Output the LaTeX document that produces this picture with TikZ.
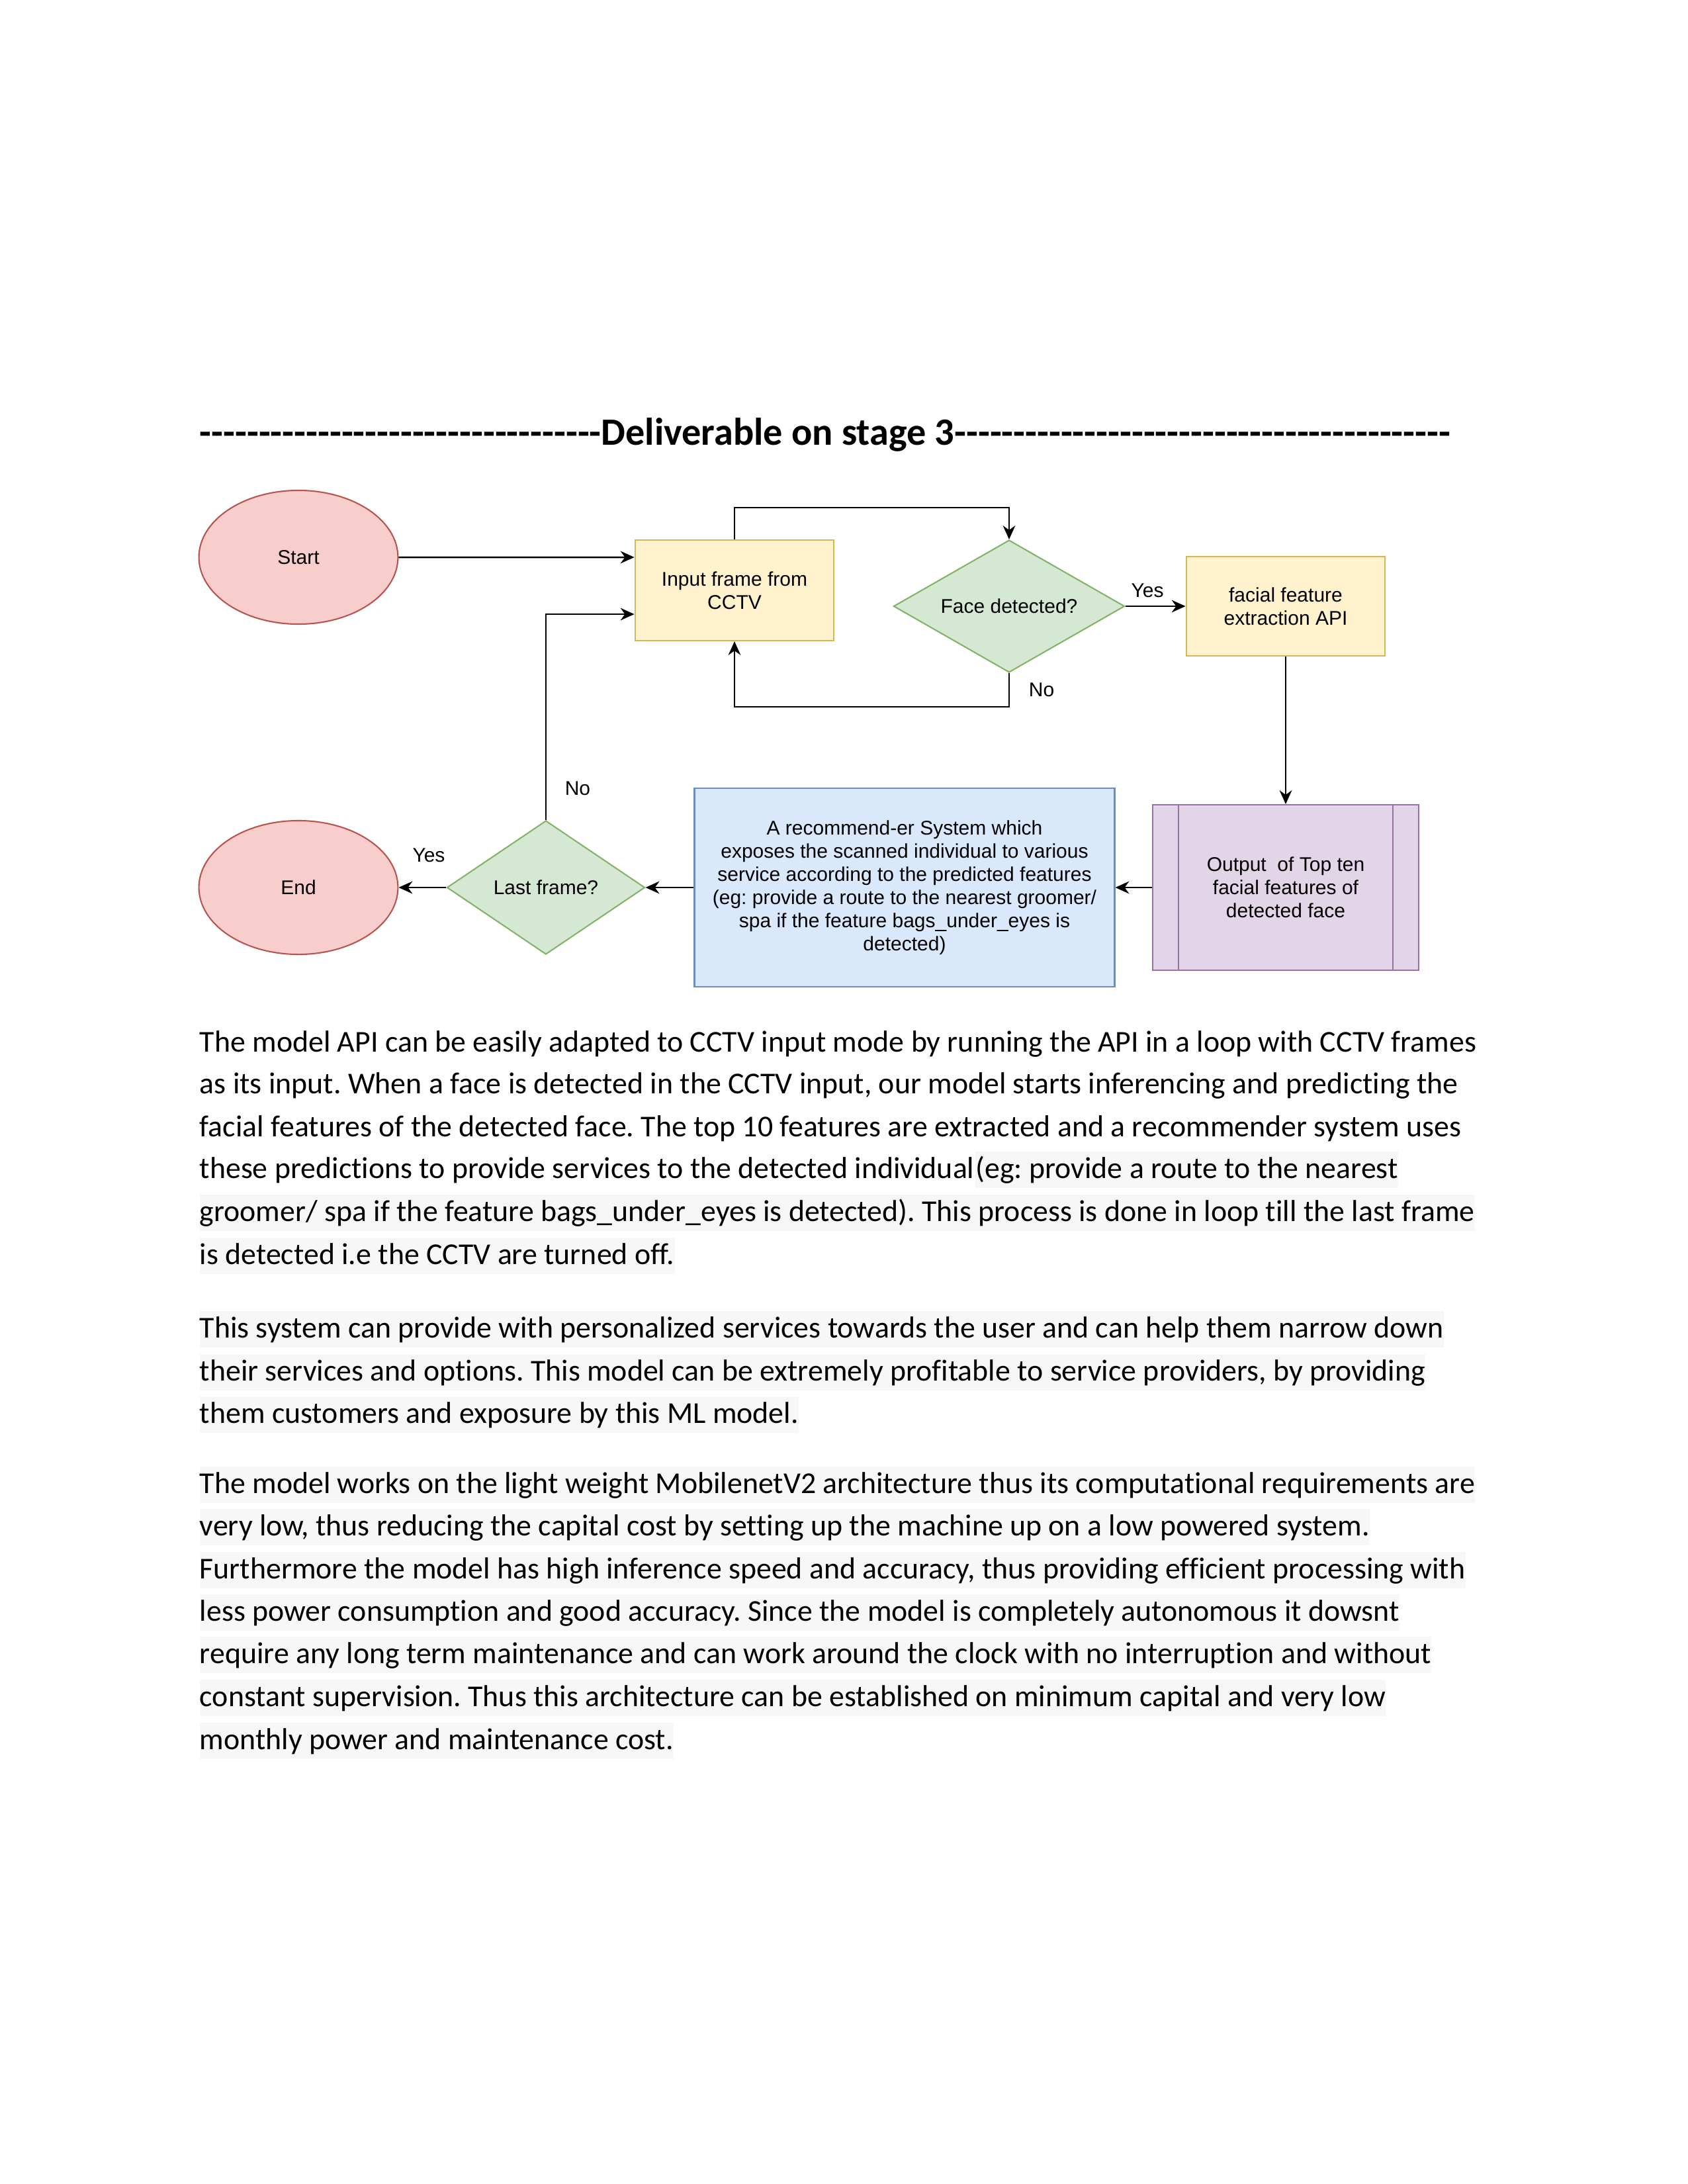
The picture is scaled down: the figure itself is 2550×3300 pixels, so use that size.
\documentclass[tikz,border=0pt]{standalone}
\usepackage{fontspec}
\setmainfont{Carlito}[Ligatures={TeX,NoCommon}]
\newfontfamily\diafont{Liberation Sans}
\usetikzlibrary{shapes.geometric,arrows.meta,positioning}
\frenchspacing

\definecolor{redfill}{HTML}{F8CECC}
\definecolor{redline}{HTML}{B85450}
\definecolor{yellowfill}{HTML}{FFF2CC}
\definecolor{yellowline}{HTML}{D6B656}
\definecolor{greenfill}{HTML}{D5E8D4}
\definecolor{greenline}{HTML}{82B366}
\definecolor{bluefill}{HTML}{DAE8FC}
\definecolor{blueline}{HTML}{6C8EBF}
\definecolor{purplefill}{HTML}{E1D5E7}
\definecolor{purpleline}{HTML}{9673A6}
\definecolor{hlgray}{HTML}{F7F7F7}

\newcommand\dashrun[1]{\foreach \k in {1,...,#1}{-{}}}

\tikzset{
  diatext/.style={font=\diafont\fontsize{7.2}{8.4}\selectfont, align=center},
  terminal/.style={ellipse, draw=redline, fill=redfill, line width=0.5pt, inner sep=0pt,
    minimum width=72.2pt, minimum height=48.5pt, diatext},
  procbox/.style={rectangle, draw=yellowline, fill=yellowfill, line width=0.5pt, inner sep=0pt,
    minimum width=72.2pt, diatext},
  decision/.style={diamond, draw=greenline, fill=greenfill, line width=0.5pt, inner sep=0pt,
    aspect=1.75, diatext},
  arrow/.style={-{Stealth[length=5pt,width=4.5pt]}, line width=0.6pt},
  edgelabel/.style={diatext, inner sep=0pt},
  bodyline/.style={anchor=base west, inner sep=0pt, font=\fontsize{11}{13.2}\selectfont},
  bodyhl/.style={bodyline, fill=hlgray, text height=9.6pt, text depth=3.6pt}
}

\begin{document}
\begin{tikzpicture}[x=0.24pt,y=0.24pt,yscale=-1]
\useasboundingbox (0,0) rectangle (2550,3300);

% Title
\node[anchor=base west, inner sep=0pt, font=\bfseries\fontsize{14}{17}\selectfont] (title) at (301,672)
  {\dashrun{34}Deliverable on stage 3\dashrun{42}};

% Flowchart nodes
\node[terminal] (start) at (451,842) {Start};
\node[procbox, minimum height=36.5pt] (input) at (1110,892) {Input frame from\\CCTV};
\node[decision, minimum width=83.8pt, minimum height=48pt] (face) at (1525,916) {Face detected?};
\node[procbox, minimum height=35.8pt] (facial) at (1943,916) {facial feature\\extraction API};
\node[rectangle, draw=purpleline, fill=purplefill, line width=0.5pt, minimum width=96.5pt,
  minimum height=60pt, inner sep=0pt, diatext] (output) at (1943,1341)
  {Output \ of Top ten\\facial features of\\detected face};
\draw[purpleline, line width=0.5pt] ([xshift=9.6pt]output.north west) -- ([xshift=9.6pt]output.south west);
\draw[purpleline, line width=0.5pt] ([xshift=-9.6pt]output.north east) -- ([xshift=-9.6pt]output.south east);
\node[rectangle, draw=blueline, fill=bluefill, line width=0.5pt, minimum width=152.4pt,
  minimum height=72.2pt, inner sep=0pt, diatext] (recsys) at (1367,1341)
  {A recommend-er System which\\exposes the scanned individual to various\\service according to the predicted features\\(eg: provide a route to the nearest groomer/\\spa if the feature bags\_under\_eyes is\\detected)};
\node[decision, minimum width=71.8pt, minimum height=48.5pt] (last) at (825,1341) {Last frame?};
\node[terminal] (stop) at (451,1341) {End};

% Connectors
\draw[arrow] (start.east) -- ([yshift=-12pt]input.west);
\draw[arrow] (input.north) -- ++(0,-48) -| (face.north);
\draw[arrow] (face.south) -- ++(0,51) -| (input.south);
\draw[arrow] (face.east) -- (facial.west);
\draw[arrow] (facial.south) -- (output.north);
\draw[arrow] (output.west) -- (recsys.east);
\draw[arrow] (recsys.west) -- (last.east);
\draw[arrow] (last.west) -- (stop.east);
\draw[arrow] (last.north) |- ([yshift=8.64pt]input.west);

% Edge labels
\node[edgelabel] (yesface) at (1734,892) {Yes};
\node[edgelabel] (noface) at (1574,1042) {No};
\node[edgelabel] (nolast) at (873,1191) {No};
\node[edgelabel] (yeslast) at (648,1292) {Yes};

% Body text
\node[bodyline] (p1a) at (301,1589) {The model API can be easily adapted to CCTV input mode by running the API in a loop with CCTV frames};
\node[bodyline] (p1b) at (301,1652) {as its input. When a face is detected in the CCTV input, our model starts inferencing and predicting the};
\node[bodyline] (p1c) at (301,1717) {facial features of the detected face. The top 10 features are extracted and a recommender system uses};
\node[bodyline] (p1d) at (301,1780) {these predictions to provide services to the detected individual};
\node[bodyhl] (p1e) at (p1d.base east) {(eg: provide a route to the nearest};
\node[bodyhl] (p1f) at (301,1845) {groomer/ spa if the feature bags\_under\_eyes is detected). This process is done in loop till the last frame};
\node[bodyhl] (p1g) at (301,1910) {is detected i.e the CCTV are turned off.};

\node[bodyhl] (p2a) at (301,2021) {This system can provide with personalized services towards the user and can help them narrow down};
\node[bodyhl] (p2b) at (301,2086) {their services and options. This model can be extremely profitable to service providers, by providing};
\node[bodyhl] (p2c) at (301,2150) {them customers and exposure by this ML model.};

\node[bodyhl] (p3a) at (301,2256) {The model works on the light weight MobilenetV2 architecture thus its computational requirements are};
\node[bodyhl] (p3b) at (301,2320) {very low, thus reducing the capital cost by setting up the machine up on a low powered system.};
\node[bodyhl] (p3c) at (301,2385) {Furthermore the model has high inference speed and accuracy, thus providing efficient processing with};
\node[bodyhl] (p3d) at (301,2449) {less power consumption and good accuracy. Since the model is completely autonomous it dowsnt};
\node[bodyhl] (p3e) at (301,2513) {require any long term maintenance and can work around the clock with no interruption and without};
\node[bodyhl] (p3f) at (301,2578) {constant supervision. Thus this architecture can be established on minimum capital and very low};
\node[bodyhl] (p3g) at (301,2643) {monthly power and maintenance cost.};

\end{tikzpicture}
\end{document}
